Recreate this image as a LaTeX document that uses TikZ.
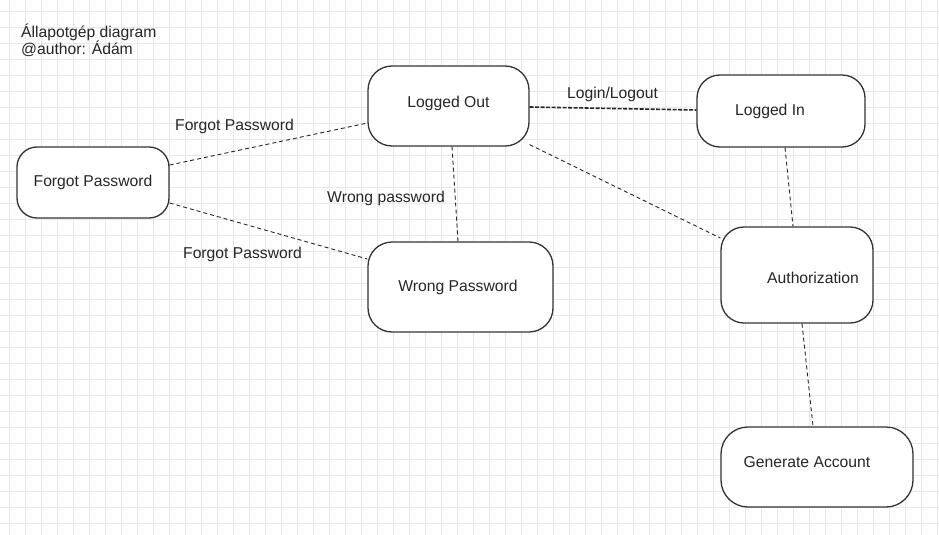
\documentclass[tikz,border=0pt]{standalone}
\usepackage{fontspec}
\setmainfont{Liberation Sans}
\usetikzlibrary{calc}
\definecolor{gridc}{HTML}{E8E8E8}
\definecolor{boxc}{HTML}{333333}
\definecolor{txtc}{HTML}{262626}
\begin{document}
\begin{tikzpicture}[x=1pt,y=-1pt,
  every node/.style={font=\fontsize{15.7}{17}\selectfont, text=txtc},
  gridline/.style={gridc, line width=0.6pt},
  statebox/.style={draw=boxc, fill=white, line width=1.3pt, inner sep=0pt},
  conn/.style={draw=black!85, line width=0.9pt, dash pattern=on 4pt off 3pt},
  connthick/.style={draw=black!85, line width=1.6pt, dash pattern=on 4pt off 1.5pt},
  lbl/.style={inner sep=0pt}]
\useasboundingbox (0,0) rectangle (939,535);
\fill[white] (0,0) rectangle (939,535);
\foreach \x in {9,25,...,937} \draw[gridline] (\x,0) -- (\x,535);
\foreach \y in {11.5,27.5,...,535} \draw[gridline] (0,\y) -- (939,\y);

% title
\node[lbl, align=left, anchor=west] (title) at (21,40) {Állapotgép diagram\\@author: Ádám};

% states
\node[statebox, rounded corners=20pt, minimum width=152pt, minimum height=71pt,
  label={[lbl]center:Forgot Password}] (fp) at (93,182.5) {};
\node[statebox, rounded corners=24pt, minimum width=161pt, minimum height=80pt,
  label={[lbl,yshift=3pt]center:Logged Out}] (lo) at (448.5,106) {};
\node[statebox, rounded corners=23pt, minimum width=168pt, minimum height=72pt,
  label={[lbl,xshift=-11pt]center:Logged In}] (li) at (781,111) {};
\node[statebox, rounded corners=23pt, minimum width=152pt, minimum height=96pt,
  label={[lbl,xshift=16pt,yshift=-3pt]center:Authorization}] (auth) at (797,275) {};
\node[statebox, rounded corners=27pt, minimum width=192pt, minimum height=80pt,
  label={[lbl,xshift=-10pt,yshift=5pt]center:Generate Account}] (ga) at (817,467) {};
\node[statebox, rounded corners=24pt, minimum width=185pt, minimum height=90pt,
  label={[lbl,xshift=-2.5pt]center:Wrong Password}] (wp) at (460.5,287) {};

% connectors
\draw[conn] ([yshift=17.5pt]fp.east) -- ([yshift=-17pt]lo.west);
\draw[conn] ([yshift=-20.5pt]fp.east) -- ([yshift=28pt]wp.west);
\draw[conn] ([xshift=3.5pt]lo.south) -- ([xshift=-2.5pt]wp.north);
\draw[connthick] ([yshift=-1pt]lo.east) -- ([yshift=1pt]li.west);
\draw[conn] ([yshift=2pt]lo.south east) -- ([yshift=37pt]auth.west);
\draw[conn] ([xshift=4pt]li.south) -- ([xshift=-4pt]auth.north);
\draw[conn] ([xshift=5pt]auth.south) -- ([xshift=-4pt]ga.north);

% connector labels
\node[lbl] (l1) at (234.5,126) {Forgot Password};
\node[lbl] (l2) at (242.5,254) {Forgot Password};
\node[lbl] (l3) at (386,198) {Wrong password};
\node[lbl] (l4) at (612.5,94) {Login/Logout};
\end{tikzpicture}
\end{document}
